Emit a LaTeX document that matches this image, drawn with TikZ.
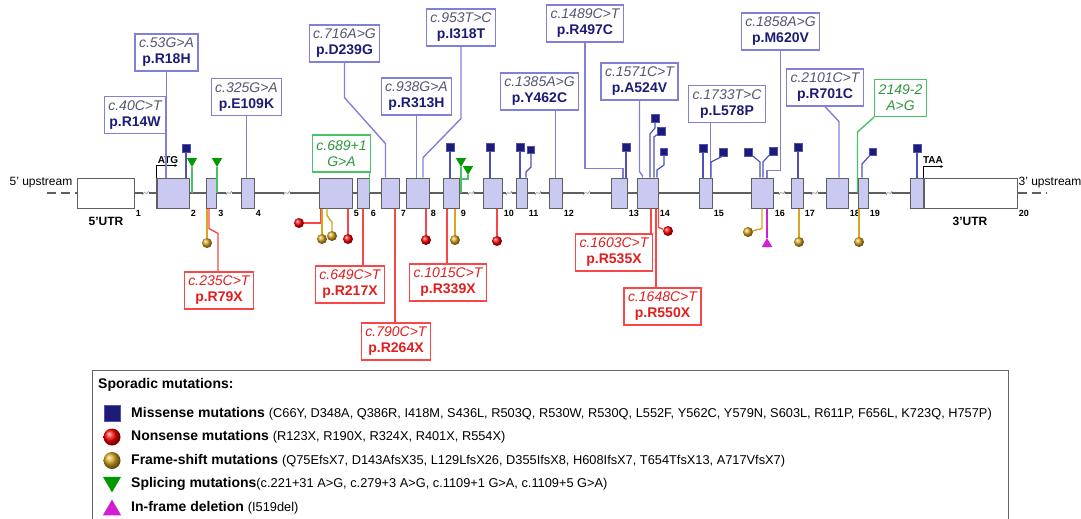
\documentclass[tikz,border=0pt]{standalone}
\usepackage{fontspec}
\setmainfont{Liberation Sans}
\usepackage{tikz}
\usetikzlibrary{arrows.meta,positioning,shapes.geometric,calc}

\definecolor{exonfill}{RGB}{201,201,242}
\definecolor{exonline}{RGB}{95,95,95}
\definecolor{lblblue}{RGB}{128,128,216}
\definecolor{stemblue}{RGB}{80,80,185}
\definecolor{navy}{RGB}{28,28,118}
\definecolor{ctext}{RGB}{85,85,115}
\definecolor{mutred}{RGB}{250,70,70}
\definecolor{txtred}{RGB}{225,30,30}
\definecolor{mutgreen}{RGB}{70,195,100}
\definecolor{txtgreen}{RGB}{45,150,60}
\definecolor{mutgold}{RGB}{215,165,30}
\definecolor{mutmag}{RGB}{210,30,210}

\newcommand{\mlab}[2]{{\itshape\color{ctext}#1}\\{\bfseries\color{navy}#2}}
\newcommand{\rlab}[2]{{\itshape #1}\\{\bfseries #2}}

\begin{document}
\begin{tikzpicture}[x=1pt, y=-1pt, >=Latex,
  exon/.style={draw=exonline, fill=exonfill, line width=1pt, minimum height=30pt, inner sep=0pt},
  utr/.style={draw=exonline, fill=white, line width=1pt, minimum height=30pt, inner sep=0pt},
  numlbl/.style={anchor=north west, inner sep=1.2pt, font=\fontsize{9}{10}\selectfont\bfseries},
  mis/.style={draw=lblblue, line width=1.2pt, fill=white, align=center, inner xsep=4pt, inner ysep=2pt, minimum height=37pt, font=\fontsize{14}{16}\selectfont},
  non/.style={mis, draw=mutred, text=txtred},
  spl/.style={mis, draw=mutgreen, text=txtgreen, font=\fontsize{14}{16}\selectfont\itshape},
  backbone/.style={exonline, line width=1.3pt},
  updash/.style={exonline, line width=1.3pt, dash pattern=on 9pt off 5pt},
  mline/.style={lblblue, line width=1.4pt},
  rline/.style={mutred, line width=1.4pt},
  gline/.style={mutgreen, line width=1.4pt},
  fline/.style={mutgold, line width=1.4pt},
  sline/.style={stemblue, line width=1.2pt},
  dline/.style={mutmag, line width=1.4pt},
  sq/.style={draw=stemblue, fill=navy, minimum size=8pt, inner sep=0pt},
  nonball/.style={circle, ball color=red, minimum size=10pt, inner sep=0pt},
  fsball/.style={circle, ball color=mutgold, minimum size=10pt, inner sep=0pt},
  spltri/.style={regular polygon, regular polygon sides=3, shape border rotate=180, fill=green!60!black, inner sep=0pt, minimum size=12pt},
  deltri/.style={regular polygon, regular polygon sides=3, fill=mutmag, inner sep=0pt, minimum size=12pt},
  legtxt/.style={anchor=west, inner sep=0pt, font=\fontsize{14}{16}\selectfont},
  brk/.pic={\fill[white] (-3,-3) rectangle (3,3);
    \draw[gray, line width=0.6pt] (-3,2) .. controls (-1,-4) and (1,4) .. (3,-2);}]
\useasboundingbox (0,0) rectangle (1081,519);

% gene structure
\node[utr, minimum width=57pt] (e1) at (105.5,193) {};
\foreach \n/\c/\w in {2/173/32, 3/211.5/10, 4/247.5/13, 5/335.5/33, 6/363/12, 7/390/18,
    8/417.5/23, 9/451/16, 10/492.5/19, 11/521.5/11, 12/555.5/13, 13/619/16, 14/647.5/21,
    15/705.5/13, 16/762/22, 17/797/12, 18/837/22, 19/863/10, 20/916.5/13}
  \node[exon, minimum width=\w pt] (e\n) at (\c,193) {};
\node[utr, minimum width=93pt, anchor=west] (u3) at (e20.east) {};
\foreach \n in {1,...,19}
  \node[numlbl] (num\n) at (e\n.south east) {\n};
\node[numlbl] (num20) at (u3.south east) {20};
\foreach \a [remember=\a as \p (initially 1)] in {2,...,20}
  \draw[backbone] (e\p.east) -- (e\a.west);
\foreach \a/\b in {1/2, 3/4, 4/5, 9/10, 10/11, 11/12, 12/13, 16/17, 17/18, 19/20}
  \pic at ($(e\a.east)!0.5!(e\b.west)$) {brk};
\draw[line width=2pt, exonline] (e2.south west) -- (e2.north west);
\draw[line width=2pt, exonline] (u3.south west) -- (u3.north west);

\coordinate (up5) at (47,193);
\coordinate (up3) at (1047,193);
\draw[updash] (up5) -- (e1.west);
\draw[updash] (u3.east) -- (up3);
\node[font=\fontsize{12}{14}\selectfont] (t5up) at (41,183) {5' upstream};
\node[font=\fontsize{12}{14}\selectfont] (t3up) at (1050,183) {3' upstream};
\node[font=\fontsize{12}{14}\selectfont\bfseries] (t5utr) at (106,221) {5'UTR};
\node[font=\fontsize{12}{14}\selectfont\bfseries] (t3utr) at (970,221) {3'UTR};

\draw[-{Latex[length=3pt,width=3pt]}, line width=0.8pt] (e2.north west) -- ++(0,-12) -- ++(21,0);
\node[font=\fontsize{10}{12}\selectfont\bfseries, inner sep=0pt] (atg) at (168,160) {ATG};
\draw[-{Latex[length=3pt,width=3pt]}, line width=0.8pt] (u3.north west) -- ++(0,-11) -- ++(20,0);
\node[font=\fontsize{10}{12}\selectfont\bfseries, inner sep=0pt] (taa) at (933,160) {TAA};

% missense and splicing labels
\node[mis] (l53) at (166.5,52.5) {\mlab{c.53G>A}{p.R18H}};
\node[mis] (l40) at (135,115) {\mlab{c.40C>T}{p.R14W}};
\node[mis] (l325) at (246.5,97) {\mlab{c.325G>A}{p.E109K}};
\node[mis] (l716) at (344.5,43.5) {\mlab{c.716A>G}{p.D239G}};
\node[mis] (l938) at (416.5,96.5) {\mlab{c.938G>A}{p.R313H}};
\node[mis] (l953) at (461,27.5) {\mlab{c.953T>C}{p.I318T}};
\node[spl] (l689) at (341.5,153.5) {c.689+1\\G>A};
\node[mis] (l1385) at (539.5,91.5) {\mlab{c.1385A>G}{p.Y462C}};
\node[mis] (l1489) at (585,23.5) {\mlab{c.1489C>T}{p.R497C}};
\node[mis] (l1571) at (639.5,81.5) {\mlab{c.1571C>T}{p.A524V}};
\node[mis] (l1733) at (727,104) {\mlab{c.1733T>C}{p.L578P}};
\node[mis] (l1858) at (780.5,31.5) {\mlab{c.1858A>G}{p.M620V}};
\node[mis] (l2101) at (825,87.5) {\mlab{c.2101C>T}{p.R701C}};
\node[spl] (l2149) at (900.5,98) {2149-2\\A>G};

\draw[mline] (l53.south) -- (l53.south |- e2.north);
\draw[mline] ([xshift=-1pt]l40.south east) -- ([xshift=-1pt]l40.south east |- e2.north);
\draw[mline] (l325.south) -- (l325.south |- e4.north);
\draw[mline] (l716.south) -- ++(0,35) -- ++(41,46) coordinate (k716) -- (k716 |- e7.north);
\draw[mline] (l938.south) -- (l938.south |- e8.north);
\draw[mline] (l953.south) -- ++(0,72) -- ++(-38,39) coordinate (k953) -- (k953 |- e8.north);
\draw[gline] (l689.south east -| e6.east) -- (e6.east);
\draw[mline] (l1385.south -| e12.north) -- (e12.north);
\draw[mline] (l1489.south) -- ++(0,126) -| ([xshift=4pt]e13.north);
\draw[mline] (l1571.south) -- ++(0,71) -- ++(3,4) coordinate (k1571) -- (k1571 |- e14.north);
\coordinate (k1733) at ([xshift=-2pt]e15.north east);
\draw[mline] (l1733.south -| k1733) -- (k1733);
\draw[mline] (l1858.south) -- ++(0,120) -| ([xshift=5pt]e16.north);
\draw[mline] (l2101.south) -- ++(14,15) coordinate (k2101) -- (k2101 |- e18.north);
\draw[gline] (l2149.south west) -- (e19.west |- 0,132) -- (e19.west);

% missense squares
\node[sq] (m2) at (186,148) {};
\node[sq] (m9) at (450,147) {};
\node[sq] (m10) at (490,147) {};
\node[sq] (m11a) at (520,147) {};
\node[sq, minimum size=7pt] (m11b) at (531,150) {};
\node[sq] (m13) at (626,147) {};
\node[sq] (m14a) at (655,118) {};
\node[sq] (m14b) at (661,131) {};
\node[sq, minimum size=7pt] (m14c) at (664,152) {};
\node[sq] (m15a) at (703,148) {};
\node[sq] (m15b) at (723,152) {};
\node[sq] (m16a) at (748,152) {};
\node[sq] (m16b) at (773,151) {};
\node[sq] (m17) at (798,147) {};
\node[sq, minimum size=7pt] (m19) at (873,152) {};
\node[sq] (m20) at (917,148) {};
\foreach \m/\e in {m2/e2, m9/e9, m10/e10, m11a/e11, m13/e13, m15a/e15, m17/e17, m20/e20}
  \draw[sline] (\m) -- (\m |- \e.north);
\draw[sline] (m11b) -- ++(0,17) -- ++(-5,5) coordinate (k11) -- (k11 |- e11.north);
\draw[sline] (m14a) -- ++(0,10) -- ++(-5,6) coordinate (k14a) -- (k14a |- e14.north);
\draw[sline] (m14b) -- ++(-7,6) coordinate (k14b) -- (k14b |- e14.north);
\draw[sline] (m14c) -- ++(0,13) -- ++(-7,5) coordinate (k14c) -- (k14c |- e14.north);
\draw[sline] (m15b) -- ++(0,4) -- ++(-12,6) coordinate (k15) -- (k15 |- e15.north);
\draw[sline] (m16a) -- ++(12,10) coordinate (k16a) -- (k16a |- e16.north);
\draw[sline] (m16b) -- ++(-10,11) coordinate (k16b) -- (k16b |- e16.north);
\draw[sline] (m19) -- ++(-11,12) coordinate (k19) -- (k19 |- e19.north);

% splicing triangles
\node[spltri] (g2) at (192,161) {};
\node[spltri] (g3) at (217,161) {};
\node[spltri] (g9a) at (461,161) {};
\node[spltri] (g9b) at (468,169) {};
\draw[gline] (g2) -- (g2 |- e2.east);
\draw[gline] (g3) -- (g3 |- e3.east);
\draw[gline] (g9a) -- (g9a |- e9.east);
\draw[gline] (g9b) -- ++(0,10) coordinate (k9) -- (k9 -| g9a);

% nonsense labels
\node[non] (r235) at (219,290.5) {\rlab{c.235C>T}{p.R79X}};
\node[non] (r649) at (350,284.5) {\rlab{c.649C>T}{p.R217X}};
\node[non] (r790) at (396,341.5) {\rlab{c.790C>T}{p.R264X}};
\node[non] (r1015) at (448,282.5) {\rlab{c.1015C>T}{p.R339X}};
\node[non] (r1603) at (614,252.5) {\rlab{c.1603C>T}{p.R535X}};
\node[non] (r1649) at (662.5,306.5) {\rlab{c.1648C>T}{p.R550X}};
\draw[rline] ([xshift=-2.5pt]e3.south) -- ++(0,20) -- ++(9,5) coordinate (k235) -- (k235 |- r235.north);
\draw[rline] (e6.south) -- (e6.south |- r649.north);
\draw[rline] ([xshift=5pt]e7.south) -- ([xshift=5pt]e7.south |- r790.north);
\draw[rline] ([xshift=-4pt]e9.south) -- ([xshift=-4pt]e9.south |- r1015.north);
\draw[rline] ([xshift=3.5pt]e14.south) -- ([xshift=3.5pt]e14.south |- r1603.north);
\draw[rline] ([xshift=8.5pt]e14.south) -- ([xshift=8.5pt]e14.south |- r1649.north);

% nonsense, frame-shift and deletion marks
\node[fsball] (f3) at (207,243) {};
\node[nonball] (n5a) at (299,223) {};
\node[fsball] (f5a) at (322,239) {};
\node[fsball] (f5b) at (332,236) {};
\node[nonball] (n5b) at (348,239) {};
\node[nonball] (n8) at (426,240) {};
\node[fsball] (f9) at (455,240) {};
\node[nonball] (n10) at (497,241) {};
\node[nonball] (n14) at (668,231) {};
\node[fsball] (f16) at (748,232) {};
\node[deltri] (d16) at (767,244) {};
\node[fsball] (f17) at (799,242) {};
\node[fsball] (f19) at (859,242) {};
\draw[fline] (f3) -- (f3 |- e3.south);
\draw[rline] (n5a) -| ([xshift=-14.5pt]e5.south);
\draw[fline] (f5a) -- (f5a |- e5.south);
\draw[fline] ([xshift=-8.5pt]e5.south) -- ++(0,7) -- ++(5,7) -- (f5b);
\draw[rline] (n5b) -- (n5b |- e5.south);
\draw[rline] (n8) -- (n8 |- e8.south);
\draw[fline] (f9) -- (f9 |- e9.south);
\draw[rline] (n10) -- (n10 |- e10.south);
\draw[rline] (e14.south east) -- ++(0,19) -- (n14);
\draw[fline] (e16.south) -- ++(0,20) -- (f16);
\draw[dline] ([xshift=5pt]e16.south) -- (d16);
\draw[fline] (f17) -- (f17 |- e17.south);
\draw[fline] (f19) -- (f19 |- e19.south);

% legend
\node[draw=gray!80!black, line width=1.3pt, anchor=north west, minimum width=916pt, minimum height=160pt] (legend) at (92,370) {};
\node[legtxt, font=\fontsize{14}{16}\selectfont\bfseries] (ltitle) at (98,385) {Sporadic mutations:};
\node[sq, minimum size=16pt, line width=0.8pt] (lg1) at (112,413.5) {};
\node[nonball, minimum size=17pt] (lg2) at (112,437) {};
\node[fsball, minimum size=17pt] (lg3) at (112,460.5) {};
\node[spltri, minimum size=21pt] (lg4) at (112,482) {};
\node[deltri, minimum size=21pt] (lg5) at (112,510) {};
\node[legtxt] (lt1) at (131,413.5) {\textbf{Missense mutations} {\fontsize{12.8}{14}\selectfont (C66Y, D348A, Q386R, I418M, S436L, R503Q, R530W, R530Q, L552F, Y562C, Y579N, S603L, R611P, F656L, K723Q, H757P)}};
\node[legtxt] (lt2) at (131,437) {\textbf{Nonsense mutations} {\fontsize{12.8}{14}\selectfont (R123X, R190X, R324X, R401X, R554X)}};
\node[legtxt] (lt3) at (131,460.5) {\textbf{Frame-shift mutations} {\fontsize{12.8}{14}\selectfont (Q75EfsX7, D143AfsX35, L129LfsX26, D355IfsX8, H608IfsX7, T654TfsX13, A717VfsX7)}};
\node[legtxt] (lt4) at (131,484) {\textbf{Splicing mutations}{\fontsize{12.8}{14}\selectfont (c.221+31 A>G, c.279+3 A>G, c.1109+1 G>A, c.1109+5 G>A)}};
\node[legtxt] (lt5) at (131,508) {\textbf{In-frame deletion} {\fontsize{12.8}{14}\selectfont (I519del)}};
\end{tikzpicture}
\end{document}
